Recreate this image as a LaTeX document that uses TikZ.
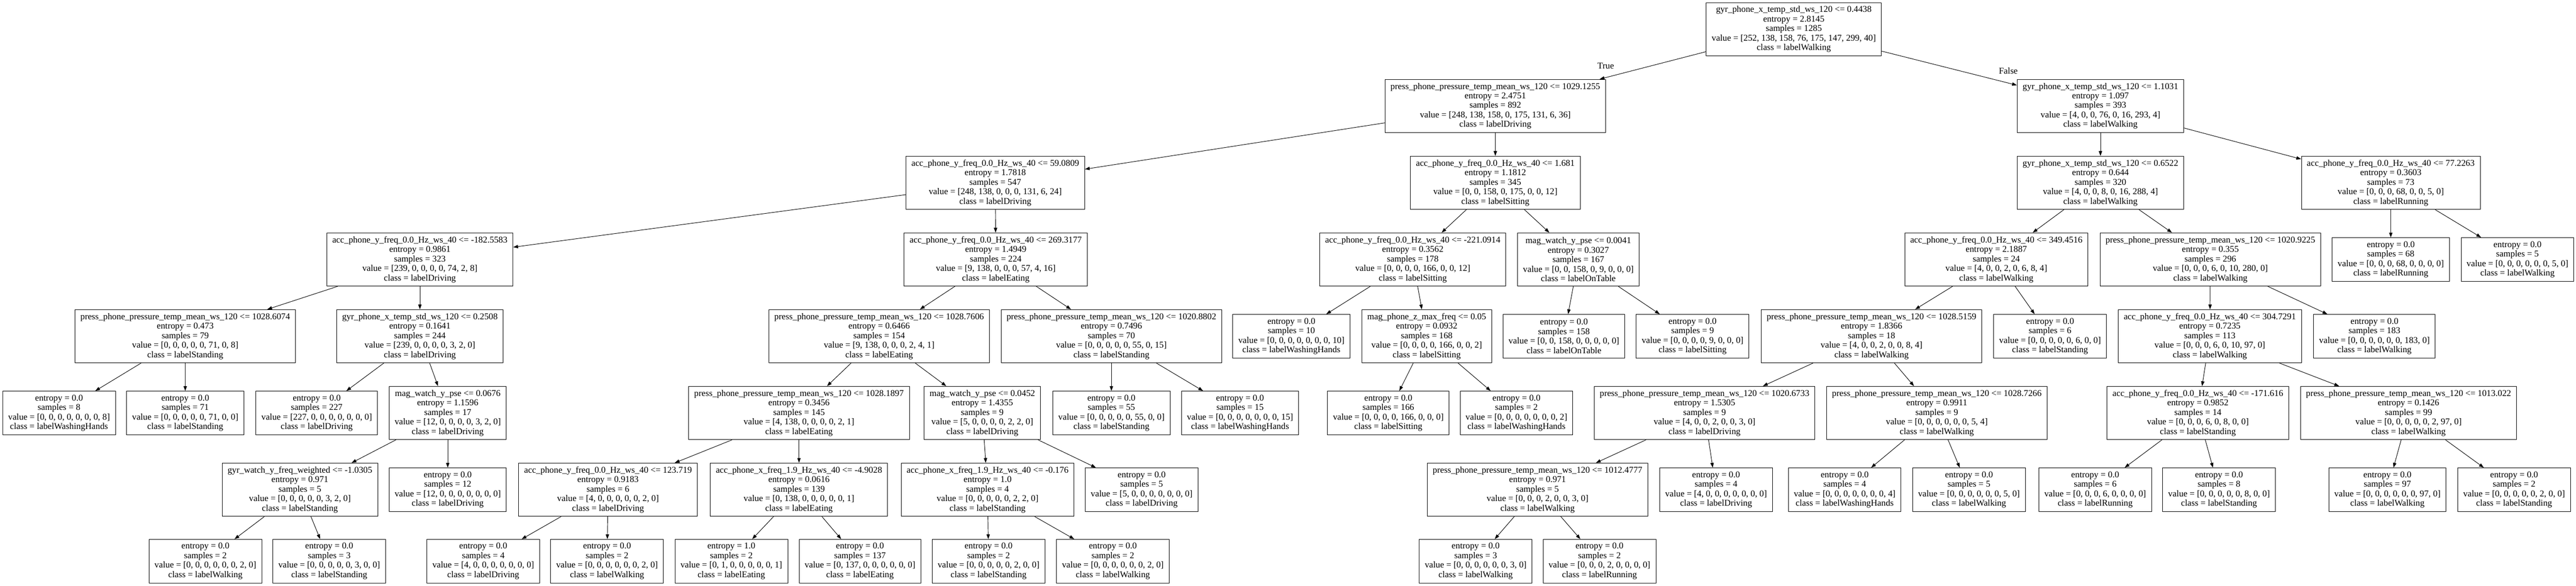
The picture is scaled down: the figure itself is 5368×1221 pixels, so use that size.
\documentclass[tikz,border=0pt]{standalone}
\usepackage{fontspec}
\setmainfont{Liberation Serif}
\usetikzlibrary{arrows.meta}

\begin{document}
\begin{tikzpicture}[x=1pt, y=-1pt, >={Triangle[length=10pt,width=7pt]},
    decision/.style={draw, line width=1pt, align=center, inner xsep=11.5pt, inner ysep=0pt,
      minimum height=111pt, font=\fontsize{18.6}{19.85}\selectfont},
    leafnode/.style={decision, minimum height=91pt},
    branch/.style={font=\fontsize{18.6}{19.85}\selectfont}]
      \useasboundingbox (0,0) rectangle (5368,1221);
      \draw
        (3738,61) node[decision] (0){gyr\_phone\_x\_temp\_std\_ws\_120 <= 0.4438\\entropy = 2.8145\\samples = 1285\\value = [252, 138, 158, 76, 175, 147, 299, 40]\\class = labelWalking}
        (3116,221) node[decision] (1){press\_phone\_pressure\_temp\_mean\_ws\_120 <= 1029.1255\\entropy = 2.4751\\samples = 892\\value = [248, 138, 158, 0, 175, 131, 6, 36]\\class = labelDriving}
        (2074,381) node[decision] (2){acc\_phone\_y\_freq\_0.0\_Hz\_ws\_40 <= 59.0809\\entropy = 1.7818\\samples = 547\\value = [248, 138, 0, 0, 0, 131, 6, 24]\\class = labelDriving}
        (875,541) node[decision] (3){acc\_phone\_y\_freq\_0.0\_Hz\_ws\_40 <= -182.5583\\entropy = 0.9861\\samples = 323\\value = [239, 0, 0, 0, 0, 74, 2, 8]\\class = labelDriving}
        (386,701) node[decision] (4){press\_phone\_pressure\_temp\_mean\_ws\_120 <= 1028.6074\\entropy = 0.473\\samples = 79\\value = [0, 0, 0, 0, 0, 71, 0, 8]\\class = labelStanding}
        (123,861) node[leafnode] (5){entropy = 0.0\\samples = 8\\value = [0, 0, 0, 0, 0, 0, 0, 8]\\class = labelWashingHands}
        (386,861) node[leafnode] (6){entropy = 0.0\\samples = 71\\value = [0, 0, 0, 0, 0, 71, 0, 0]\\class = labelStanding}
        (875,701) node[decision] (7){gyr\_phone\_x\_temp\_std\_ws\_120 <= 0.2508\\entropy = 0.1641\\samples = 244\\value = [239, 0, 0, 0, 0, 3, 2, 0]\\class = labelDriving}
        (660,861) node[leafnode] (8){entropy = 0.0\\samples = 227\\value = [227, 0, 0, 0, 0, 0, 0, 0]\\class = labelDriving}
        (933,861) node[decision] (9){mag\_watch\_y\_pse <= 0.0676\\entropy = 1.1596\\samples = 17\\value = [12, 0, 0, 0, 0, 3, 2, 0]\\class = labelDriving}
        (625,1021) node[decision] (10){gyr\_watch\_y\_freq\_weighted <= -1.0305\\entropy = 0.971\\samples = 5\\value = [0, 0, 0, 0, 0, 3, 2, 0]\\class = labelStanding}
        (428,1170) node[leafnode] (11){entropy = 0.0\\samples = 2\\value = [0, 0, 0, 0, 0, 0, 2, 0]\\class = labelWalking}
        (686,1170) node[leafnode] (12){entropy = 0.0\\samples = 3\\value = [0, 0, 0, 0, 0, 3, 0, 0]\\class = labelStanding}
        (933,1021) node[leafnode] (13){entropy = 0.0\\samples = 12\\value = [12, 0, 0, 0, 0, 0, 0, 0]\\class = labelDriving}
        (2075,541) node[decision] (14){acc\_phone\_y\_freq\_0.0\_Hz\_ws\_40 <= 269.3177\\entropy = 1.4949\\samples = 224\\value = [9, 138, 0, 0, 0, 57, 4, 16]\\class = labelEating}
        (1832,701) node[decision] (15){press\_phone\_pressure\_temp\_mean\_ws\_120 <= 1028.7606\\entropy = 0.6466\\samples = 154\\value = [9, 138, 0, 0, 0, 2, 4, 1]\\class = labelEating}
        (1665,861) node[decision] (16){press\_phone\_pressure\_temp\_mean\_ws\_120 <= 1028.1897\\entropy = 0.3456\\samples = 145\\value = [4, 138, 0, 0, 0, 0, 2, 1]\\class = labelEating}
        (1267,1021) node[decision] (17){acc\_phone\_y\_freq\_0.0\_Hz\_ws\_40 <= 123.719\\entropy = 0.9183\\samples = 6\\value = [4, 0, 0, 0, 0, 0, 2, 0]\\class = labelDriving}
        (1007,1170) node[leafnode] (18){entropy = 0.0\\samples = 4\\value = [4, 0, 0, 0, 0, 0, 0, 0]\\class = labelDriving}
        (1265,1170) node[leafnode] (19){entropy = 0.0\\samples = 2\\value = [0, 0, 0, 0, 0, 0, 2, 0]\\class = labelWalking}
        (1665,1021) node[decision] (20){acc\_phone\_x\_freq\_1.9\_Hz\_ws\_40 <= -4.9028\\entropy = 0.0616\\samples = 139\\value = [0, 138, 0, 0, 0, 0, 0, 1]\\class = labelEating}
        (1524,1170) node[leafnode] (21){entropy = 1.0\\samples = 2\\value = [0, 1, 0, 0, 0, 0, 0, 1]\\class = labelEating}
        (1792,1170) node[leafnode] (22){entropy = 0.0\\samples = 137\\value = [0, 137, 0, 0, 0, 0, 0, 0]\\class = labelEating}
        (2047,861) node[decision] (23){mag\_watch\_y\_pse <= 0.0452\\entropy = 1.4355\\samples = 9\\value = [5, 0, 0, 0, 0, 2, 2, 0]\\class = labelDriving}
        (2058,1021) node[decision] (24){acc\_phone\_x\_freq\_1.9\_Hz\_ws\_40 <= -0.176\\entropy = 1.0\\samples = 4\\value = [0, 0, 0, 0, 0, 2, 2, 0]\\class = labelStanding}
        (2060,1170) node[leafnode] (25){entropy = 0.0\\samples = 2\\value = [0, 0, 0, 0, 0, 2, 0, 0]\\class = labelStanding}
        (2319,1170) node[leafnode] (26){entropy = 0.0\\samples = 2\\value = [0, 0, 0, 0, 0, 0, 2, 0]\\class = labelWalking}
        (2379,1021) node[leafnode] (27){entropy = 0.0\\samples = 5\\value = [5, 0, 0, 0, 0, 0, 0, 0]\\class = labelDriving}
        (2316,701) node[decision] (28){press\_phone\_pressure\_temp\_mean\_ws\_120 <= 1020.8802\\entropy = 0.7496\\samples = 70\\value = [0, 0, 0, 0, 0, 55, 0, 15]\\class = labelStanding}
        (2316,861) node[leafnode] (29){entropy = 0.0\\samples = 55\\value = [0, 0, 0, 0, 0, 55, 0, 0]\\class = labelStanding}
        (2584,861) node[leafnode] (30){entropy = 0.0\\samples = 15\\value = [0, 0, 0, 0, 0, 0, 0, 15]\\class = labelWashingHands}
        (3116,381) node[decision] (31){acc\_phone\_y\_freq\_0.0\_Hz\_ws\_40 <= 1.681\\entropy = 1.1812\\samples = 345\\value = [0, 0, 158, 0, 175, 0, 0, 12]\\class = labelSitting}
        (2944,541) node[decision] (32){acc\_phone\_y\_freq\_0.0\_Hz\_ws\_40 <= -221.0914\\entropy = 0.3562\\samples = 178\\value = [0, 0, 0, 0, 166, 0, 0, 12]\\class = labelSitting}
        (2691,701) node[leafnode] (33){entropy = 0.0\\samples = 10\\value = [0, 0, 0, 0, 0, 0, 0, 10]\\class = labelWashingHands}
        (2973,701) node[decision] (34){mag\_phone\_z\_max\_freq <= 0.05\\entropy = 0.0932\\samples = 168\\value = [0, 0, 0, 0, 166, 0, 0, 2]\\class = labelSitting}
        (2893,861) node[leafnode] (35){entropy = 0.0\\samples = 166\\value = [0, 0, 0, 0, 166, 0, 0, 0]\\class = labelSitting}
        (3160,861) node[leafnode] (36){entropy = 0.0\\samples = 2\\value = [0, 0, 0, 0, 0, 0, 0, 2]\\class = labelWashingHands}
        (3289,541) node[decision] (37){mag\_watch\_y\_pse <= 0.0041\\entropy = 0.3027\\samples = 167\\value = [0, 0, 158, 0, 9, 0, 0, 0]\\class = labelOnTable}
        (3259,701) node[leafnode] (38){entropy = 0.0\\samples = 158\\value = [0, 0, 158, 0, 0, 0, 0, 0]\\class = labelOnTable}
        (3527,701) node[leafnode] (39){entropy = 0.0\\samples = 9\\value = [0, 0, 0, 0, 9, 0, 0, 0]\\class = labelSitting}
        (4377,221) node[decision] (40){gyr\_phone\_x\_temp\_std\_ws\_120 <= 1.1031\\entropy = 1.097\\samples = 393\\value = [4, 0, 0, 76, 0, 16, 293, 4]\\class = labelWalking}
        (4377,381) node[decision] (41){gyr\_phone\_x\_temp\_std\_ws\_120 <= 0.6522\\entropy = 0.644\\samples = 320\\value = [4, 0, 0, 8, 0, 16, 288, 4]\\class = labelWalking}
        (4160,541) node[decision] (42){acc\_phone\_y\_freq\_0.0\_Hz\_ws\_40 <= 349.4516\\entropy = 2.1887\\samples = 24\\value = [4, 0, 0, 2, 0, 6, 8, 4]\\class = labelWalking}
        (3900,701) node[decision] (43){press\_phone\_pressure\_temp\_mean\_ws\_120 <= 1028.5159\\entropy = 1.8366\\samples = 18\\value = [4, 0, 0, 2, 0, 0, 8, 4]\\class = labelWalking}
        (3552,861) node[decision] (44){press\_phone\_pressure\_temp\_mean\_ws\_120 <= 1020.6733\\entropy = 1.5305\\samples = 9\\value = [4, 0, 0, 2, 0, 0, 3, 0]\\class = labelDriving}
        (3204,1021) node[decision] (45){press\_phone\_pressure\_temp\_mean\_ws\_120 <= 1012.4777\\entropy = 0.971\\samples = 5\\value = [0, 0, 0, 2, 0, 0, 3, 0]\\class = labelWalking}
        (3075,1170) node[leafnode] (46){entropy = 0.0\\samples = 3\\value = [0, 0, 0, 0, 0, 0, 3, 0]\\class = labelWalking}
        (3333,1170) node[leafnode] (47){entropy = 0.0\\samples = 2\\value = [0, 0, 0, 2, 0, 0, 0, 0]\\class = labelRunning}
        (3576,1021) node[leafnode] (48){entropy = 0.0\\samples = 4\\value = [4, 0, 0, 0, 0, 0, 0, 0]\\class = labelDriving}
        (4036,861) node[decision] (49){press\_phone\_pressure\_temp\_mean\_ws\_120 <= 1028.7266\\entropy = 0.9911\\samples = 9\\value = [0, 0, 0, 0, 0, 0, 5, 4]\\class = labelWalking}
        (3844,1021) node[leafnode] (50){entropy = 0.0\\samples = 4\\value = [0, 0, 0, 0, 0, 0, 0, 4]\\class = labelWashingHands}
        (4103,1021) node[leafnode] (51){entropy = 0.0\\samples = 5\\value = [0, 0, 0, 0, 0, 0, 5, 0]\\class = labelWalking}
        (4272,701) node[leafnode] (52){entropy = 0.0\\samples = 6\\value = [0, 0, 0, 0, 0, 6, 0, 0]\\class = labelStanding}
        (4606,541) node[decision] (53){press\_phone\_pressure\_temp\_mean\_ws\_120 <= 1020.9225\\entropy = 0.355\\samples = 296\\value = [0, 0, 0, 6, 0, 10, 280, 0]\\class = labelWalking}
        (4605,701) node[decision] (54){acc\_phone\_y\_freq\_0.0\_Hz\_ws\_40 <= 304.7291\\entropy = 0.7235\\samples = 113\\value = [0, 0, 0, 6, 0, 10, 97, 0]\\class = labelWalking}
        (4580,861) node[decision] (55){acc\_phone\_y\_freq\_0.0\_Hz\_ws\_40 <= -171.616\\entropy = 0.9852\\samples = 14\\value = [0, 0, 0, 6, 0, 8, 0, 0]\\class = labelStanding}
        (4366,1021) node[leafnode] (56){entropy = 0.0\\samples = 6\\value = [0, 0, 0, 6, 0, 0, 0, 0]\\class = labelRunning}
        (4624,1021) node[leafnode] (57){entropy = 0.0\\samples = 8\\value = [0, 0, 0, 0, 0, 8, 0, 0]\\class = labelStanding}
        (5019,861) node[decision] (58){press\_phone\_pressure\_temp\_mean\_ws\_120 <= 1013.022\\entropy = 0.1426\\samples = 99\\value = [0, 0, 0, 0, 0, 2, 97, 0]\\class = labelWalking}
        (4975,1021) node[leafnode] (59){entropy = 0.0\\samples = 97\\value = [0, 0, 0, 0, 0, 0, 97, 0]\\class = labelWalking}
        (5239,1021) node[leafnode] (60){entropy = 0.0\\samples = 2\\value = [0, 0, 0, 0, 0, 2, 0, 0]\\class = labelStanding}
        (4948,701) node[leafnode] (61){entropy = 0.0\\samples = 183\\value = [0, 0, 0, 0, 0, 0, 183, 0]\\class = labelWalking}
        (4982,381) node[decision] (62){acc\_phone\_y\_freq\_0.0\_Hz\_ws\_40 <= 77.2263\\entropy = 0.3603\\samples = 73\\value = [0, 0, 0, 68, 0, 0, 5, 0]\\class = labelRunning}
        (4982,541) node[leafnode] (63){entropy = 0.0\\samples = 68\\value = [0, 0, 0, 68, 0, 0, 0, 0]\\class = labelRunning}
        (5246,541) node[leafnode] (64){entropy = 0.0\\samples = 5\\value = [0, 0, 0, 0, 0, 0, 5, 0]\\class = labelWalking};
      \node[branch] (true) at (3346,137) {True};
      \node[branch] (false) at (4185,148) {False};
      \begin{scope}[->, line width=1pt]
        \draw (0) to (1);
        \draw (0) to (40);
        \draw (1) to (2);
        \draw (1) to (31);
        \draw (2) to (3);
        \draw (2) to (14);
        \draw (3) to (4);
        \draw (3) to (7);
        \draw (4) to (5);
        \draw (4) to (6);
        \draw (7) to (8);
        \draw (7) to (9);
        \draw (9) to (10);
        \draw (9) to (13);
        \draw (10) to (11);
        \draw (10) to (12);
        \draw (14) to (15);
        \draw (14) to (28);
        \draw (15) to (16);
        \draw (15) to (23);
        \draw (16) to (17);
        \draw (16) to (20);
        \draw (17) to (18);
        \draw (17) to (19);
        \draw (20) to (21);
        \draw (20) to (22);
        \draw (23) to (24);
        \draw (23) to (27);
        \draw (24) to (25);
        \draw (24) to (26);
        \draw (28) to (29);
        \draw (28) to (30);
        \draw (31) to (32);
        \draw (31) to (37);
        \draw (32) to (33);
        \draw (32) to (34);
        \draw (34) to (35);
        \draw (34) to (36);
        \draw (37) to (38);
        \draw (37) to (39);
        \draw (40) to (41);
        \draw (40) to (62);
        \draw (41) to (42);
        \draw (41) to (53);
        \draw (42) to (43);
        \draw (42) to (52);
        \draw (43) to (44);
        \draw (43) to (49);
        \draw (44) to (45);
        \draw (44) to (48);
        \draw (45) to (46);
        \draw (45) to (47);
        \draw (49) to (50);
        \draw (49) to (51);
        \draw (53) to (54);
        \draw (53) to (61);
        \draw (54) to (55);
        \draw (54) to (58);
        \draw (55) to (56);
        \draw (55) to (57);
        \draw (58) to (59);
        \draw (58) to (60);
        \draw (62) to (63);
        \draw (62) to (64);
      \end{scope}
    \end{tikzpicture}
\end{document}
